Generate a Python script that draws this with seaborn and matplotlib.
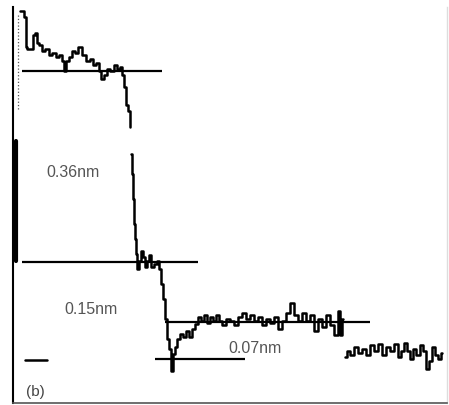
import pandas as pd
import matplotlib
matplotlib.use("Agg")
import matplotlib.pyplot as plt
import seaborn as sns

# height profile (distance / height in picture units)
top_x = [20, 23, 25, 26, 28, 32, 33, 36, 38, 40, 43, 47, 50, 54, 57, 60, 63, 65, 67, 70,
         73, 76, 80, 84, 88, 91, 94, 97, 100, 102, 105, 108, 112, 115, 118, 121, 123, 125,
         127, 129, 130]
top_h = [394, 394, 388, 358, 356, 356, 370, 372, 362, 360, 354, 356, 350, 352, 348, 350, 344,
         334, 344, 348, 354, 352, 358, 350, 344, 346, 340, 342, 334, 326, 330, 336, 334,
         340, 336, 338, 330, 318, 300, 294, 278]

mid_x = [131, 132, 133, 134, 135, 136, 138, 140, 142, 144, 146, 148, 150,
         152, 155, 158, 160, 162, 164, 166, 168, 170, 172, 174, 176, 178, 181, 184, 187,
         190, 193, 196, 199, 202, 205, 208, 211, 214, 217, 220, 224, 228, 232, 236, 240,
         244, 248, 252, 256, 260, 264, 268, 272, 276, 280, 284, 288, 292, 296, 300, 304,
         308, 312, 316, 320, 324, 328, 332, 336, 339, 341, 343]
mid_h = [251, 231, 206, 181, 166, 151, 136, 144, 154, 148, 138, 144, 150, 138, 141, 144, 136,
         121, 106, 86, 66, 56, 34, 51, 58, 66, 71, 68, 74, 68, 76, 81, 88, 84, 90, 82, 88,
         84, 90, 84, 80, 86, 84, 80, 88, 92, 86, 90, 84, 88, 80, 86, 82, 88, 76, 84, 92,
         102, 90, 84, 92, 84, 90, 74, 86, 78, 90, 80, 70, 94, 70, 86]

low_x = [345, 348, 352, 356, 360, 364, 368, 372, 376, 380, 384, 388, 392, 396, 399, 402,
         405, 408, 411, 414, 418, 421, 424, 427, 430, 433, 436, 439, 442]
low_h = [48, 54, 50, 58, 52, 56, 50, 60, 54, 61, 50, 58, 54, 61, 48, 54, 62, 54, 46, 56,
         50, 60, 54, 36, 44, 58, 50, 46, 52]

# terrace reference lines
level_h = [334, 143, 83, 46]
level_x0 = [22, 22, 165, 155]
level_x1 = [162, 198, 370, 245]

# step height labels
step_labels = ["0.36nm", "0.15nm", "0.07nm"]
label_x = [73, 91, 255]
label_h = [233, 96, 57]

profile = pd.DataFrame({
    "x": top_x + mid_x + low_x,
    "h": top_h + mid_h + low_h,
    "part": ["top"] * len(top_x) + ["mid"] * len(mid_x) + ["low"] * len(low_x),
})

sns.set_style("white")
plt.rcParams["font.family"] = ["Liberation Sans", "DejaVu Sans"]

fig = plt.figure(figsize=(4.49, 4.06), dpi=100)
ax = fig.add_axes([13 / 449, 2 / 406, 434 / 449, 396 / 406])

sns.lineplot(data=profile, x="x", y="h", units="part", estimator=None, sort=False,
             color="black", linewidth=1.8, drawstyle="steps-mid", ax=ax)

ax.hlines(level_h, level_x0, level_x1, color="black", linewidth=1.6)

# faint start of the trace and thick edge mark on the left
ax.plot([18, 18], [296, 392], color="#555555", linewidth=0.9, linestyle=":")
ax.plot([15.5, 15.5], [144, 264], color="black", linewidth=3)

for lab, lx, lh in zip(step_labels, label_x, label_h):
    ax.text(lx, lh, lab, ha="center", va="center", fontsize=11.5, color="#555555")

# scale bar and panel label
ax.plot([25, 47], [45, 45], color="black", linewidth=1.8)
ax.text(35, 14, "(b)", ha="center", va="center", fontsize=11, color="#444444")

ax.set_xlim(13, 447)
ax.set_ylim(2, 398)
ax.set_xticks([])
ax.set_yticks([])
ax.set_xlabel("")
ax.set_ylabel("")
ax.spines["top"].set_visible(False)
ax.spines["left"].set_color("black")
ax.spines["left"].set_linewidth(1.5)
ax.spines["bottom"].set_color("#555555")
ax.spines["bottom"].set_linewidth(1.2)
ax.spines["right"].set_color("#dddddd")
ax.spines["right"].set_linewidth(1)

fig.savefig("out.png", dpi=100)
